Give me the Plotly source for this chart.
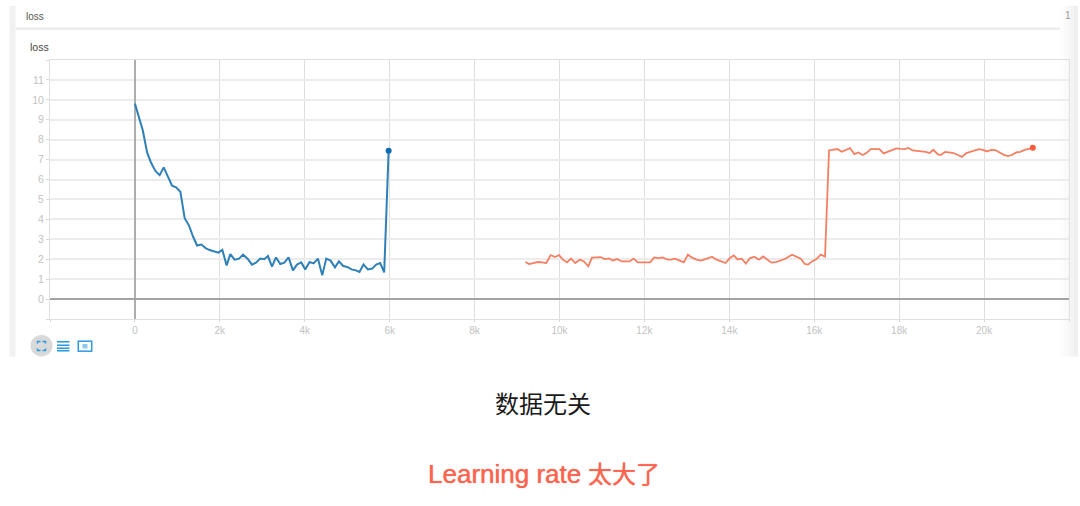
# -*- coding: utf-8 -*-

import plotly.graph_objects as go

blue_steps = [0, 185, 287, 381, 482, 583, 678, 772, 875, 969, 1070, 1172, 1275, 1369, 1463, 1565,
              1666, 1760, 1863, 1965, 2059, 2160, 2247, 2348, 2452, 2546, 2654, 2757, 2851, 2953,
              3047, 3134, 3228, 3322, 3424, 3518, 3619, 3722, 3816, 3918, 4012, 4113, 4207, 4311,
              4412, 4506, 4607, 4711, 4805, 4906, 5000, 5101, 5205, 5289, 5384, 5487, 5588, 5682,
              5776, 5871, 5976]
blue_loss = [9.81, 8.47, 7.36, 6.84, 6.43, 6.22, 6.61, 6.17, 5.69, 5.61, 5.39, 4.06, 3.69, 3.14, 2.69, 2.74,
             2.56, 2.46, 2.38, 2.33, 2.47, 1.69, 2.26, 1.98, 2.03, 2.23, 2.03, 1.73, 1.83, 2.03,
             2.0, 2.16, 1.63, 2.09, 1.76, 1.83, 2.09, 1.44, 1.73, 1.84, 1.48, 1.86, 1.79, 2.03,
             1.19, 2.03, 1.93, 1.59, 1.89, 1.66, 1.61, 1.49, 1.44, 1.36, 1.74, 1.49, 1.53, 1.73,
             1.81, 1.34, 7.45]

orange_steps = [9196, 9282, 9384, 9487, 9588, 9690, 9792, 9894, 9988, 10082, 10176, 10271, 10372, 10482,
                10576, 10678, 10765, 10866, 10970, 11065, 11165, 11259, 11361, 11464, 11565, 11651,
                11746, 11847, 11948, 12042, 12136, 12231, 12334, 12428, 12530, 12631, 12725, 12819,
                12929, 13024, 13125, 13228, 13329, 13440, 13595, 13699, 13911, 14012, 14106, 14193,
                14294, 14388, 14489, 14593, 14694, 14795, 14889, 14993, 15094, 15195, 15306, 15478,
                15581, 15682, 15776, 15854, 15948, 16052, 16153, 16254, 16348, 16442, 16546, 16647,
                16748, 16842, 16946, 17040, 17141, 17228, 17329, 17431, 17534, 17635, 17737, 17831,
                17934, 18035, 18129, 18216, 18318, 18419, 18522, 18624, 18718, 18805, 18913, 18976,
                19087, 19188, 19282, 19384, 19478, 19581, 19675, 19776, 19878, 19972, 20066, 20169,
                20264, 20365, 20466, 20560, 20654, 20758, 20852, 20954, 21055, 21148]
orange_loss = [1.86, 1.76, 1.81, 1.86, 1.84, 1.81, 2.21, 2.11, 2.21, 1.98, 1.84, 2.03, 1.81, 1.98,
               1.89, 1.64, 2.08, 2.11, 2.11, 2.01, 2.04, 1.94, 2.01, 1.89, 1.89, 1.89,
               2.03, 1.84, 1.84, 1.84, 1.84, 2.09, 2.06, 2.09, 1.99, 1.98, 2.03, 1.94,
               1.84, 2.23, 2.08, 1.98, 1.93, 2.01, 2.13, 1.98, 1.81, 2.06, 2.19, 1.99,
               2.03, 1.78, 2.06, 2.13, 1.98, 2.14, 1.98, 1.83, 1.86, 1.93, 2.01, 2.23,
               2.14, 2.03, 1.76, 1.73, 1.89, 2.01, 2.23, 2.13, 7.46, 7.49, 7.53, 7.39,
               7.48, 7.58, 7.28, 7.36, 7.23, 7.33, 7.53, 7.54, 7.53, 7.31, 7.39, 7.49,
               7.56, 7.54, 7.53, 7.59, 7.46, 7.44, 7.43, 7.39, 7.33, 7.49, 7.26, 7.23,
               7.39, 7.36, 7.33, 7.23, 7.14, 7.33, 7.39, 7.44, 7.53, 7.49, 7.41, 7.49,
               7.48, 7.36, 7.24, 7.18, 7.23, 7.36, 7.39, 7.49, 7.56, 7.59]

x_ticks = [-2000, 0, 2000, 4000, 6000, 8000, 10000, 12000, 14000, 16000, 18000, 20000, 22000]
x_labels = ['', '0', '2k', '4k', '6k', '8k', '10k', '12k', '14k', '16k', '18k', '20k', '']
y_ticks = [-1, 0, 1, 2, 3, 4, 5, 6, 7, 8, 9, 10, 11, 12]
y_labels = ['', '0', '1', '2', '3', '4', '5', '6', '7', '8', '9', '10', '11', '']

FONT = 'Liberation Sans, Noto Sans CJK SC, sans-serif'
LEFT, RIGHT, TOP, BOTTOM = 49.5, 1069.0, 60.0, 319.5


# page pixels to paper coordinates
def px(x):
    return (x - LEFT) / (RIGHT - LEFT)


def py(y):
    return (BOTTOM - y) / (BOTTOM - TOP)


def rect(x0, y0, x1, y1, color, layer='below'):
    return dict(type='rect', xref='paper', yref='paper', x0=px(x0), x1=px(x1), y0=py(y0), y1=py(y1),
                fillcolor=color, line_width=0, layer=layer)


def text(x, y, s, size, color, anchor='left', shadow='none'):
    return dict(xref='paper', yref='paper', x=px(x), y=py(y), text=s, showarrow=False, xanchor=anchor,
                yanchor='middle', font=dict(family=FONT, size=size, color=color, shadow=shadow))


fig = go.Figure()
fig.add_trace(go.Scatter(x=blue_steps, y=blue_loss, mode='lines', line=dict(color='#2f80b8', width=2)))
fig.add_trace(go.Scatter(x=blue_steps[-1:], y=blue_loss[-1:], mode='markers',
                         marker=dict(color='#0f6db5', size=6)))
fig.add_trace(go.Scatter(x=orange_steps, y=orange_loss, mode='lines', line=dict(color='#f57f62', width=1.8)))
fig.add_trace(go.Scatter(x=orange_steps[-1:], y=orange_loss[-1:], mode='markers',
                         marker=dict(color='#fb5a38', size=6)))

shapes = [
    rect(9, 6, 15, 357, '#f1f1f1'),
    rect(15, 27.5, 1070, 30, '#ececec'),
]
# soft shadow on the right edge of the card
for x0, shade in zip([1060, 1064, 1068, 1071, 1074], ['#fdfdfd', '#fafafa', '#f7f7f7', '#f3f3f3', '#efefef']):
    shapes.append(rect(x0, 6, x0 + 4, 357, shade))

# buttons under the plot
blue_icon = '#2e9ae0'
shapes.append(dict(type='circle', xref='paper', yref='paper', x0=px(30), x1=px(52), y0=py(357), y1=py(335.5),
                   fillcolor='#d9d9d9', line_width=0))
corners = [(37, 344, 37, 342, 40, 342), (42, 342, 45, 342, 45, 344), (45, 349, 45, 351, 42, 351),
           (40, 351, 37, 351, 37, 349)]
for a, b, c, d, e, f in corners:
    shapes.append(dict(type='path', xref='paper', yref='paper',
                       path=f'M {px(a)} {py(b)} L {px(c)} {py(d)} L {px(e)} {py(f)}',
                       line=dict(color=blue_icon, width=1.5)))
for y0 in [341.5, 345, 348, 350.5]:
    shapes.append(rect(56.5, y0, 69, y0 + 1.6, blue_icon, 'above'))
shapes.append(rect(77, 341, 92, 352.5, blue_icon, 'above'))
shapes.append(rect(78.5, 342.5, 90.5, 351, 'white', 'above'))
shapes.append(rect(82, 344.5, 87, 349, '#8cc8ee', 'above'))

annotations = [
    text(23.5, 16, 'loss', 10, '#555555'),
    text(1068, 15, '1', 10, '#999999', 'center'),
    text(27.5, 47, 'loss', 10.5, '#444444'),
    text(543, 405.5, '数据无关', 24, '#1a1a1a', 'center'),
    text(543.5, 474.5, '<span style="font-size:26px">Learning rate</span> 太大了', 24, '#fa6450', 'center',
         '0 0 1px #fa6450'),
]

fig.update_layout(
    width=1080, height=506,
    margin=dict(l=LEFT, r=1080 - RIGHT, t=TOP, b=506 - BOTTOM, pad=0),
    paper_bgcolor='white', plot_bgcolor='white',
    showlegend=False,
    shapes=shapes, annotations=annotations,
    font=dict(family=FONT),
)
fig.update_xaxes(range=[-2000, 22000], tickvals=x_ticks, ticktext=x_labels, ticks='outside', ticklen=2,
                 tickcolor='#d8d8d8', tickfont=dict(size=10, color='#c2c2c2'), gridcolor='#dedede', gridwidth=1,
                 zeroline=True, zerolinecolor='#adadad', zerolinewidth=2, showline=True, linecolor='#e0e0e0',
                 linewidth=1, mirror=True)
fig.update_yaxes(range=[-1, 12], tickvals=y_ticks, ticktext=y_labels, ticks='outside', ticklen=3,
                 tickcolor='#d8d8d8', tickfont=dict(size=10.5, color='#c2c2c2'), gridcolor='#ececec', gridwidth=2,
                 zeroline=True, zerolinecolor='#a3a3a3', zerolinewidth=1.5, showline=True, linecolor='#e0e0e0',
                 linewidth=1, mirror=True)

fig.write_html('out.html', config=dict(displayModeBar=False),
               post_script="document.body.style.margin='0';document.documentElement.style.overflow='hidden';")
